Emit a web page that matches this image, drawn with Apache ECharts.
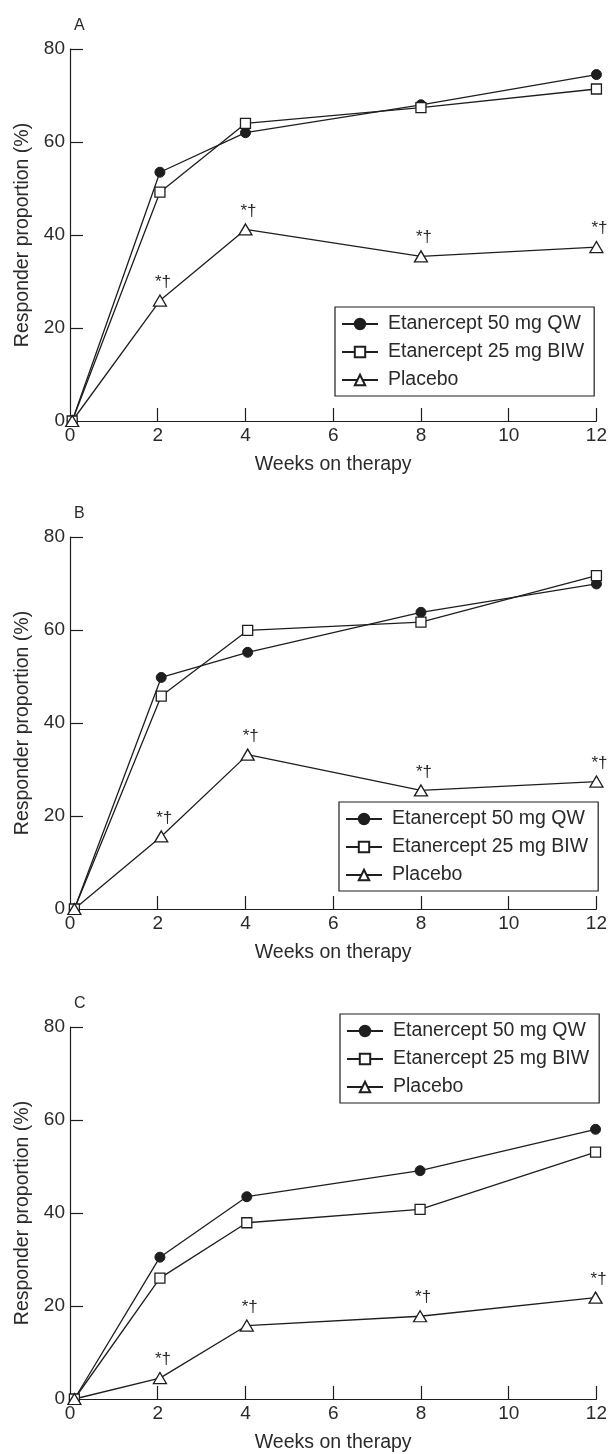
<!DOCTYPE html>
<html>
<head>
<meta charset="utf-8">
<script src="https://cdn.jsdelivr.net/npm/echarts@6/dist/echarts.min.js"></script>
<style>
html,body{margin:0;padding:0;background:#fff;}
#chart{width:610px;height:1454px;}
</style>
</head>
<body>
<div id="chart"></div>
<script>
// ---- data ----
const panelLabels = ['A', 'B', 'C'];
const seriesNames = ['Etanercept 50 mg QW', 'Etanercept 25 mg BIW', 'Placebo'];
const xTicks = [0, 2, 4, 6, 8, 10, 12];
const yTicks = [0, 20, 40, 60, 80];

const weeksA = [0.05, 2.05, 4.0, 8.0, 12.0];
const qwA = [0, 53.5, 62.0, 68.0, 74.5];
const biwA = [0, 49.2, 64.0, 67.4, 71.4];
const placeboA = [0, 25.9, 41.2, 35.4, 37.4];

const weeksB = [0.1, 2.08, 4.05, 8.0, 12.0];
const qwB = [0, 49.8, 55.2, 63.8, 69.9];
const biwB = [0, 45.8, 59.9, 61.7, 71.7];
const placeboB = [0, 15.6, 33.2, 25.5, 27.4];

const weeksC = [0.1, 2.05, 4.03, 7.98, 11.98];
const qwC = [0, 30.5, 43.5, 49.1, 58.0];
const biwC = [0, 26.0, 37.9, 40.8, 53.1];
const placeboC = [0, 4.5, 15.8, 17.8, 21.8];

const placeboMarks = ['', '*\u2020', '*\u2020', '*\u2020', '*\u2020'];

const panels = [
  {weeks: weeksA, qw: qwA, biw: biwA, pl: placeboA},
  {weeks: weeksB, qw: qwB, biw: biwB, pl: placeboB},
  {weeks: weeksC, qw: qwC, biw: biwC, pl: placeboC}
];

// ---- layout ----
const FONT = 'Liberation Sans';
const TXT = '#2a2a2a';
const LINE = '#1e1e1e';
const gridTops = [49, 537, 1027];
const gridH = 372;
const legendPos = [{left: 335, top: 307}, {left: 339, top: 802}, {left: 340, top: 1014}];

const pairs = (xs, ys) => xs.map((x, i) => [x, ys[i]]);

const option = {
  backgroundColor: '#fff',
  animation: false,
  title: panelLabels.map((t, i) => ({
    text: t, left: 69, top: gridTops[i] - 36,
    textStyle: {fontFamily: FONT, fontSize: 16, fontWeight: 'normal', color: TXT}
  })),
  grid: gridTops.map(t => ({left: 70, right: 12, top: t, height: gridH, containLabel: false})),
  xAxis: gridTops.map((t, i) => ({
    gridIndex: i, type: 'value', min: 0, max: 12, interval: 2,
    name: 'Weeks on therapy', nameLocation: 'middle', nameGap: 34,
    nameTextStyle: {fontFamily: FONT, fontSize: 19.5, color: TXT},
    axisLine: {show: true, onZero: false, lineStyle: {color: LINE, width: 1.2}},
    axisTick: {show: true, inside: true, length: 13, lineStyle: {color: LINE, width: 1.2},
      customValues: xTicks.slice(1)},
    axisLabel: {fontFamily: FONT, fontSize: 19, color: TXT, margin: 5, customValues: xTicks},
    splitLine: {show: false}
  })),
  yAxis: gridTops.map((t, i) => ({
    gridIndex: i, type: 'value', min: 0, max: 80, interval: 20,
    name: 'Responder proportion (%)', nameLocation: 'middle', nameGap: 37,
    nameTextStyle: {fontFamily: FONT, fontSize: 19.5, color: TXT},
    axisLine: {show: true, lineStyle: {color: LINE, width: 1.2}},
    axisTick: {show: true, inside: true, length: 13, lineStyle: {color: LINE, width: 1.2},
      customValues: yTicks.slice(1)},
    axisLabel: {fontFamily: FONT, fontSize: 19, color: TXT, margin: 5, customValues: yTicks},
    splitLine: {show: false}
  })),
  legend: legendPos.map(p => ({
    left: p.left, top: p.top, orient: 'vertical',
    data: seriesNames,
    borderColor: LINE, borderWidth: 1.2, borderRadius: 0,
    padding: [7, 10, 6, 6], itemGap: 8, itemWidth: 36, itemHeight: 13,
    selectedMode: false,
    textStyle: {fontFamily: FONT, fontSize: 19.5, color: TXT, padding: [0, 0, 0, 5]}
  })),
  series: []
};

panels.forEach((p, i) => {
  option.series.push({
    name: seriesNames[0], type: 'line', xAxisIndex: i, yAxisIndex: i,
    data: pairs(p.weeks, p.qw),
    symbol: 'circle', symbolSize: 10,
    lineStyle: {color: LINE, width: 1.3},
    itemStyle: {color: LINE, borderColor: LINE, borderWidth: 1}
  });
  option.series.push({
    name: seriesNames[1], type: 'line', xAxisIndex: i, yAxisIndex: i,
    data: pairs(p.weeks, p.biw),
    symbol: 'rect', symbolSize: 10,
    lineStyle: {color: LINE, width: 1.3},
    itemStyle: {color: '#fff', borderColor: LINE, borderWidth: 1.3}
  });
  option.series.push({
    name: seriesNames[2], type: 'line', xAxisIndex: i, yAxisIndex: i,
    data: pairs(p.weeks, p.pl),
    symbol: 'triangle', symbolSize: [13, 11],
    lineStyle: {color: LINE, width: 1.3},
    itemStyle: {color: '#fff', borderColor: LINE, borderWidth: 1.3},
    label: {
      show: true, position: 'top', distance: 4, offset: [3, 0],
      fontFamily: FONT, fontSize: 17, color: TXT,
      formatter: q => placeboMarks[q.dataIndex]
    }
  });
});

const chart = echarts.init(document.getElementById('chart'), null, {renderer: 'canvas'});
chart.setOption(option);
</script>
</body>
</html>
